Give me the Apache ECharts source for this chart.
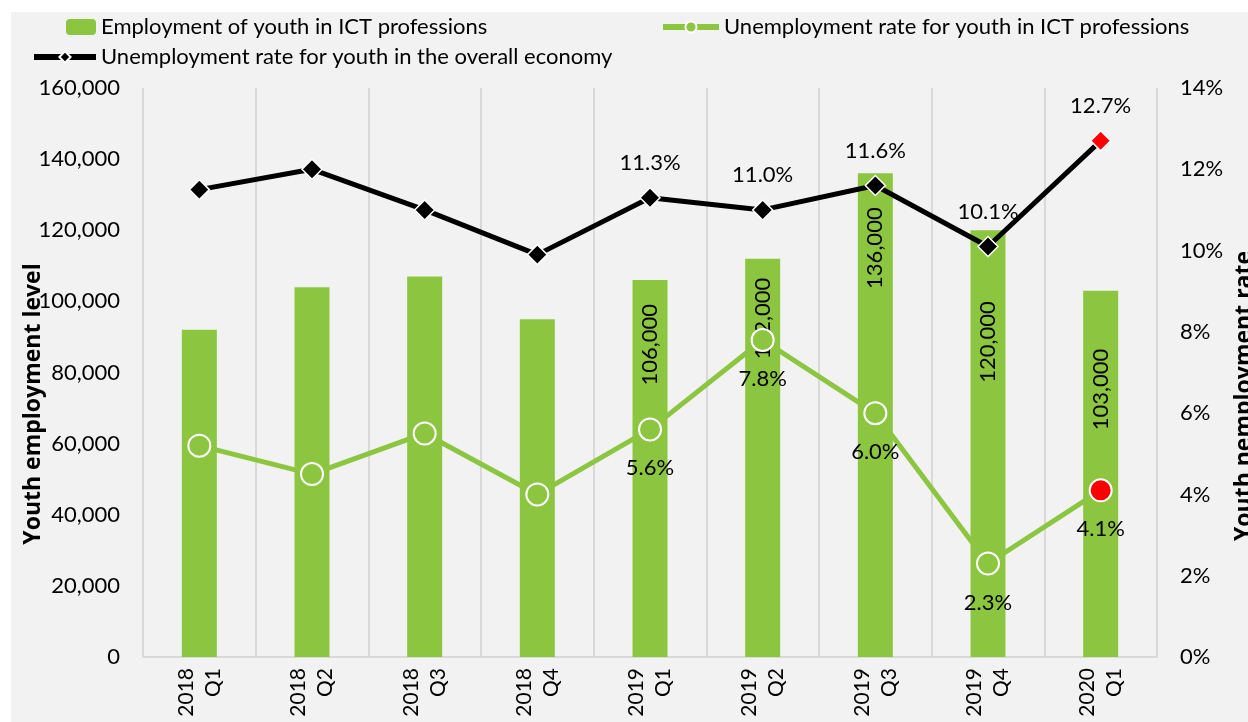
<!DOCTYPE html>
<html>
<head>
<meta charset="utf-8">
<script src="https://cdn.jsdelivr.net/npm/echarts@6/dist/echarts.min.js"></script>
<style>
html,body{margin:0;padding:0;background:#fff;}
#chart{width:1248px;height:722px;}
</style>
</head>
<body>
<div id="chart"></div>
<script>
// ---- data ----
const categories = ['2018 Q1','2018 Q2','2018 Q3','2018 Q4','2019 Q1','2019 Q2','2019 Q3','2019 Q4','2020 Q1'];
const ictEmployment = [92000, 104000, 107000, 95000, 106000, 112000, 136000, 120000, 103000];
const ictUnemploymentRate = [5.2, 4.5, 5.5, 4.0, 5.6, 7.8, 6.0, 2.3, 4.1];
const overallUnemploymentRate = [11.5, 12.0, 11.0, 9.9, 11.3, 11.0, 11.6, 10.1, 12.7];
const leftTicks = [0, 20000, 40000, 60000, 80000, 100000, 120000, 140000, 160000];
const rightTicks = [0, 2, 4, 6, 8, 10, 12, 14];

// ---- styling ----
const FONT = 'Lato';
const GREEN = '#8cc540';
const labelFrom = 4;              // labels shown from 2019 Q1
const barLabelGap = [0,0,0,0,24,19,34,71,58];
const lastIdx = categories.length - 1;

const fmtNum = v => v.toLocaleString('en-US');

const barData = ictEmployment.map((v,i) => ({
  value: v,
  label: {show: i >= labelFrom, distance: barLabelGap[i]}
}));
const greenData = ictUnemploymentRate.map((v,i) => ({
  value: v,
  label: {show: i >= labelFrom},
  itemStyle: i === lastIdx ? {color: '#ff0000'} : undefined
}));
const blackData = overallUnemploymentRate.map((v,i) => ({
  value: v,
  label: {show: i >= labelFrom},
  itemStyle: i === lastIdx ? {color: '#ff0000'} : undefined
}));

const legendText = {fontFamily: FONT, fontSize: 22, color: '#000'};

const chart = echarts.init(document.getElementById('chart'), null, {renderer:'canvas'});
const option = {
  backgroundColor: '#ffffff',
  animation: false,
  textStyle: {fontFamily: FONT},
  graphic: [
    {type:'rect', z:-10, shape:{x:11, y:12, width:1248, height:722}, style:{fill:'#f2f2f2'}},
    {type:'text', x:33, y:404, rotation: Math.PI/2,
      style:{text:'Youth employment level', fontFamily:'Open Sans', fontWeight:'bold', fontSize:23, fill:'#000',
        align:'center', verticalAlign:'middle'}},
    {type:'text', x:1244, y:396, rotation: Math.PI/2,
      style:{text:'Youth nemployment rate', fontFamily:'Open Sans', fontWeight:'bold', fontSize:23, fill:'#000',
        align:'center', verticalAlign:'middle'}}
  ],
  legend: [
    {left: 61, top: 11, itemWidth: 30, itemHeight: 16, data: ['Employment of youth in ICT professions'],
      textStyle: legendText, selectedMode: false},
    {left: 655, top: 11, itemWidth: 56, itemHeight: 14, data: ['Unemployment rate for youth in ICT professions'],
      textStyle: legendText, selectedMode: false, lineStyle: {width: 6}},
    {left: 26, top: 41, itemWidth: 62, itemHeight: 14, data: ['Unemployment rate for youth in the overall economy'],
      textStyle: legendText, selectedMode: false, lineStyle: {width: 6}}
  ],
  grid: {left: 143, right: 91, top: 88, bottom: 65, containLabel: false},
  xAxis: {
    type: 'category',
    data: categories,
    boundaryGap: true,
    axisLine: {show: true, lineStyle: {color: '#d9d9d9', width: 2}},
    axisTick: {show: false},
    splitLine: {show: true, lineStyle: {color: '#d9d9d9', width: 2}},
    axisLabel: {
      rotate: 90, margin: 11, fontFamily: FONT, fontSize: 21, color: '#000', lineHeight: 27,
      interval: 0,
      formatter: v => v.replace(' ', '\n')
    }
  },
  yAxis: [
    {
      type: 'value', min: leftTicks[0], max: leftTicks[leftTicks.length-1], interval: leftTicks[1]-leftTicks[0],
      axisLine: {show: false}, axisTick: {show: false}, splitLine: {show: false},
      axisLabel: {margin: 23, fontFamily: FONT, fontSize: 22, color: '#000', formatter: v => fmtNum(v)}
    },
    {
      type: 'value', min: rightTicks[0], max: rightTicks[rightTicks.length-1], interval: rightTicks[1]-rightTicks[0],
      position: 'right',
      axisLine: {show: false}, axisTick: {show: false}, splitLine: {show: false},
      axisLabel: {margin: 23, fontFamily: FONT, fontSize: 22, color: '#000', formatter: v => v + '%'}
    }
  ],
  series: [
    {
      name: 'Employment of youth in ICT professions',
      type: 'bar', yAxisIndex: 0, barWidth: 35,
      itemStyle: {color: GREEN},
      label: {
        position: 'insideTop', rotate: 90, align: 'right', verticalAlign: 'middle',
        fontFamily: FONT, fontSize: 22, color: '#000',
        formatter: p => fmtNum(p.value)
      },
      data: barData,
      z: 2
    },
    {
      name: 'Unemployment rate for youth in ICT professions',
      type: 'line', yAxisIndex: 1,
      symbol: 'circle', symbolSize: 22,
      lineStyle: {color: GREEN, width: 5},
      itemStyle: {color: GREEN, borderColor: '#ffffff', borderWidth: 2},
      label: {position: 'bottom', distance: 16, fontFamily: FONT, fontSize: 22, color: '#000',
        formatter: p => p.value.toFixed(1) + '%'},
      data: greenData,
      z: 3
    },
    {
      name: 'Unemployment rate for youth in the overall economy',
      type: 'line', yAxisIndex: 1,
      symbol: 'diamond', symbolSize: 20,
      lineStyle: {color: '#000', width: 5},
      itemStyle: {color: '#000', borderColor: '#ffffff', borderWidth: 1.5},
      label: {position: 'top', distance: 13, fontFamily: FONT, fontSize: 22, color: '#000',
        formatter: p => p.value.toFixed(1) + '%'},
      data: blackData,
      z: 4
    }
  ]
};
chart.setOption(option);
</script>
</body>
</html>
